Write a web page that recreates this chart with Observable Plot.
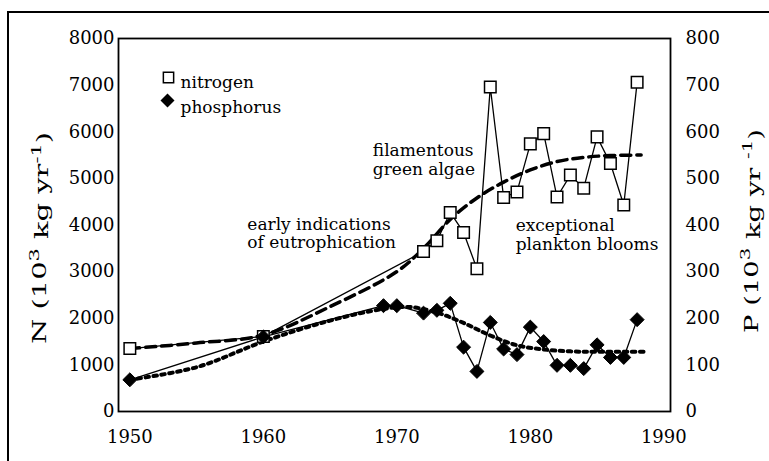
<!DOCTYPE html>
<html><head><meta charset="utf-8">
<script src="https://cdn.jsdelivr.net/npm/d3@7"></script>
<script src="https://cdn.jsdelivr.net/npm/@observablehq/plot@0.6"></script>
<style>
html,body{margin:0;padding:0;background:#fff;overflow:hidden;width:769px;height:461px}
#border{position:absolute;left:7px;top:11px;width:900px;height:700px;border:2px solid #000;}
#chart{position:absolute;left:0;top:0}
</style></head><body>
<div id="border"></div>
<div id="chart"></div>
<script>
// axis ticks
const xTicks = [1950, 1960, 1970, 1980, 1990];
const nTicks = [0, 1000, 2000, 3000, 4000, 5000, 6000, 7000, 8000];
const pTicks = [0, 100, 200, 300, 400, 500, 600, 700, 800];

// nitrogen load (10^3 kg/yr)
const nYears  = [1950, 1960, 1972, 1973, 1974, 1975, 1976, 1977, 1978, 1979, 1980, 1981, 1982, 1983, 1984, 1985, 1986, 1987, 1988];
const nValues = [1350, 1610, 3430, 3660, 4270, 3840, 3060, 6960, 4590, 4710, 5740, 5960, 4600, 5070, 4790, 5890, 5320, 4430, 7060];

// phosphorus load (10^3 kg/yr)
const pYears  = [1950, 1960, 1969, 1970, 1972, 1973, 1974, 1975, 1976, 1977, 1978, 1979, 1980, 1981, 1982, 1983, 1984, 1985, 1986, 1987, 1988];
const pValues = [68, 160, 227, 227, 211, 217, 232, 138, 86, 191, 134, 122, 181, 150, 99, 99, 92, 143, 116, 116, 197];

// trend curves
const nTrendYears  = [1950, 1955, 1960, 1965, 1970, 1972, 1974, 1976, 1978, 1980, 1982, 1984, 1986, 1988.3];
const nTrendValues = [1350, 1470, 1640, 2250, 3000, 3500, 4120, 4580, 4920, 5180, 5360, 5450, 5490, 5500];
const pTrendYears  = [1950, 1955, 1960, 1965, 1969, 1971, 1973, 1975, 1977, 1979, 1981, 1983, 1985, 1988.5];
const pTrendValues = [68, 95, 150, 195, 220, 224, 212, 190, 163, 142, 133, 129, 128, 128];

// labels
const legendLabels = ["nitrogen", "phosphorus"];
const notes = ["filamentous\ngreen algae", "early indications\nof eutrophication", "exceptional\nplankton blooms"];
const noteYears = [1968.2, 1958.8, 1978.9];
const noteValues = [5400, 3820, 3790];

const FONT = "DejaVu Serif";

const nData = nYears.map((x, i) => ({x, y: nValues[i]}));
const pData = pYears.map((x, i) => ({x, y: pValues[i] * 10}));
const nTrend = nTrendYears.map((x, i) => ({x, y: nTrendValues[i]}));
const pTrend = pTrendYears.map((x, i) => ({x, y: pTrendValues[i] * 10}));

const plot = Plot.plot({
  width: 769, height: 461,
  marginLeft: 118, marginRight: 99, marginTop: 38, marginBottom: 50,
  style: {fontFamily: FONT, fontSize: "18px", color: "#000", background: "transparent", overflow: "visible"},
  x: {domain: [1949.15, 1990.5]},
  y: {domain: [0, 8000]},
  marks: [
    Plot.axisX(xTicks, {tickSize: 0, tickPadding: 19, tickFormat: d => String(d), label: null, fontFamily: FONT, fontSize: 18}),
    Plot.axisY(nTicks, {anchor: "left", tickSize: 0, tickPadding: 4, tickFormat: d => String(d), label: null, fontFamily: FONT, fontSize: 18}),
    Plot.axisY(pTicks.map(v => v * 10), {anchor: "right", tickSize: 0, tickPadding: 15, tickFormat: d => String(d / 10), label: null, fontFamily: FONT, fontSize: 18}),
    Plot.line(nData, {x: "x", y: "y", stroke: "#000", strokeWidth: 1.3}),
    Plot.line(pData, {x: "x", y: "y", stroke: "#000", strokeWidth: 1.3}),
    Plot.line(nTrend, {x: "x", y: "y", curve: "catmull-rom", stroke: "#000", strokeWidth: 3.5, strokeDasharray: "10,6"}),
    Plot.line(pTrend, {x: "x", y: "y", curve: "catmull-rom", stroke: "#000", strokeWidth: 4, strokeDasharray: "3.5,4.5"}),
    Plot.dot(nData, {x: "x", y: "y", symbol: "square", r: 6.5, fill: "#fff", stroke: "#000", strokeWidth: 1.5}),
    Plot.dot(pData, {x: "x", y: "y", symbol: "diamond2", r: 6.3, fill: "#000", stroke: "#000", strokeWidth: 1}),
    Plot.frame({stroke: "#000", strokeWidth: 1.8}),
    Plot.text(notes, {x: noteYears, y: noteValues, text: d => d, textAnchor: "start", lineHeight: 1.08, fill: "#000", fontFamily: FONT, fontSize: 17}),
    // legend
    Plot.dot([legendLabels[0]], {frameAnchor: "top-left", dx: 50, dy: 39, symbol: "square", r: 5.8, fill: "#fff", stroke: "#000", strokeWidth: 1.5}),
    Plot.dot([legendLabels[1]], {frameAnchor: "top-left", dx: 49, dy: 62, symbol: "diamond2", r: 6.3, fill: "#000"}),
    Plot.text([legendLabels[0]], {frameAnchor: "top-left", dx: 62, dy: 37, text: d => d, textAnchor: "start", fill: "#000", fontFamily: FONT, fontSize: 17}),
    Plot.text([legendLabels[1]], {frameAnchor: "top-left", dx: 62, dy: 62, text: d => d, textAnchor: "start", fill: "#000", fontFamily: FONT, fontSize: 17})
  ]
});
document.getElementById("chart").appendChild(plot);

// axis titles with superscripts, stretched along the text direction as in the reference
const svg = d3.select(plot);
function axisTitle(cx, cy, lead, gap, target) {
  const t = svg.append("text")
    .attr("text-anchor", "middle")
    .attr("dominant-baseline", "central")
    .attr("font-family", FONT)
    .attr("font-size", 18)
    .attr("fill", "#000");
  t.append("tspan").text(lead + " (10");
  t.append("tspan").attr("dy", "-0.42em").attr("font-size", "0.72em").text("3");
  t.append("tspan").attr("dy", "0.42em").text(" kg yr" + gap);
  t.append("tspan").attr("dy", "-0.42em").attr("font-size", "0.72em").text("-1");
  t.append("tspan").attr("dy", "0.42em").text(")");
  const len = t.node().getComputedTextLength() || target;
  t.attr("transform", `translate(${cx},${cy}) rotate(-90) scale(${target / len},1)`);
}
axisTitle(40, 238, "N", "", 212);
axisTitle(751, 231, "P", " ", 204);
</script>
</body></html>
